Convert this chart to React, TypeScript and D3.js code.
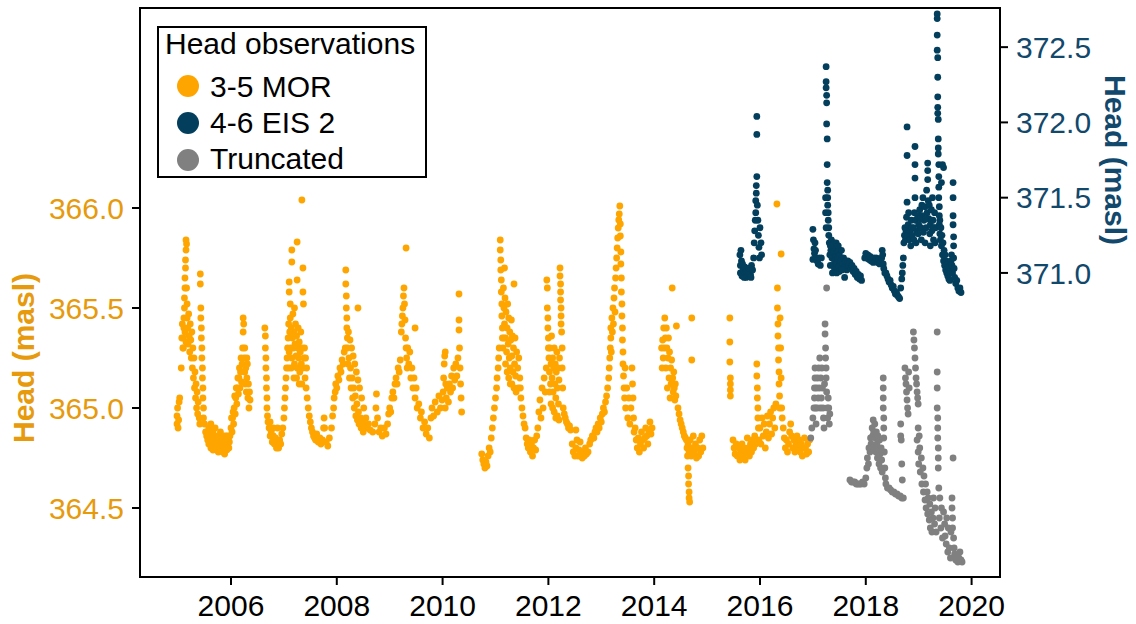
import React from "react";
import * as d3 from "d3";

// Observation series: [decimal year, head in metres above sea level]
const mor35: [number, number][] = [
  // 2005 season
  [2004.98, 364.92], [2004.98, 364.96], [2004.99, 365.0], [2005.0, 364.9], [2005.01, 364.94], [2005.02, 365.03], [2005.03, 365.05], [2005.06, 365.2],
  [2005.1, 365.3], [2005.1, 365.35], [2005.11, 365.4], [2005.11, 365.45], [2005.12, 365.5], [2005.12, 365.55], [2005.13, 365.6], [2005.13, 365.65],
  [2005.14, 365.7], [2005.14, 365.74], [2005.15, 365.79], [2005.15, 365.84], [2005.16, 365.82], [2005.16, 365.6], [2005.17, 365.52], [2005.17, 365.45],
  [2005.07, 365.35], [2005.08, 365.42], [2005.09, 365.3], [2005.13, 365.38], [2005.15, 365.33], [2005.18, 365.4], [2005.19, 365.32], [2005.2, 365.47],
  [2005.21, 365.36], [2005.22, 365.28], [2005.23, 365.42], [2005.24, 365.34], [2005.25, 365.25], [2005.26, 365.38], [2005.27, 365.2], [2005.28, 365.3],
  [2005.29, 365.15], [2005.3, 365.25], [2005.31, 365.1], [2005.32, 365.18], [2005.33, 365.05], [2005.34, 365.12], [2005.35, 365.0], [2005.36, 365.08],
  [2005.37, 364.97], [2005.38, 365.03], [2005.4, 364.95], [2005.41, 364.92],
  [2005.42, 365.67], [2005.42, 365.62], [2005.43, 365.5], [2005.43, 365.45], [2005.44, 365.4], [2005.44, 365.35], [2005.45, 365.3], [2005.45, 365.25],
  [2005.46, 365.2], [2005.46, 365.15], [2005.47, 365.1], [2005.47, 365.05], [2005.48, 365.0], [2005.48, 364.95],
  [2005.5, 364.92], [2005.52, 364.88], [2005.54, 364.86], [2005.56, 364.84], [2005.58, 364.82], [2005.6, 364.85], [2005.62, 364.8], [2005.64, 364.83],
  [2005.66, 364.79], [2005.68, 364.82], [2005.7, 364.8], [2005.72, 364.85], [2005.74, 364.8], [2005.76, 364.78], [2005.78, 364.82], [2005.8, 364.79],
  [2005.82, 364.84], [2005.84, 364.78], [2005.86, 364.8], [2005.88, 364.77], [2005.9, 364.82], [2005.92, 364.79], [2005.94, 364.84], [2005.96, 364.8],
  [2005.58, 364.9], [2005.62, 364.92], [2005.66, 364.88], [2005.7, 364.9], [2005.75, 364.86], [2005.8, 364.88], [2005.85, 364.86], [2005.9, 364.86],
  [2005.57, 364.87], [2005.61, 364.84], [2005.65, 364.86], [2005.69, 364.84], [2005.73, 364.82], [2005.77, 364.84], [2005.81, 364.81], [2005.87, 364.83],
  [2005.93, 364.86], [2005.97, 364.83],
  [2005.98, 364.86], [2006.0, 364.9], [2006.02, 364.88], [2006.03, 364.95], [2006.05, 364.92], [2006.06, 365.0], [2006.08, 364.97], [2006.09, 365.05],
  [2006.11, 365.02], [2006.12, 365.1], [2006.14, 365.07], [2006.15, 365.15], [2006.17, 365.1], [2006.18, 365.18], [2006.2, 365.13], [2006.21, 365.22],
  [2006.22, 365.3], [2006.23, 365.38], [2006.23, 365.45], [2006.24, 365.42], [2006.25, 365.25], [2006.26, 365.18], [2006.27, 365.12], [2006.28, 365.2],
  [2006.29, 365.08], [2006.3, 365.15], [2006.31, 365.22], [2006.32, 365.05], [2006.33, 365.12], [2006.34, 365.0], [2006.35, 365.08], [2006.36, 365.04],
  [2006.01, 364.95], [2006.04, 364.98], [2006.07, 365.06], [2006.1, 365.1], [2006.13, 365.15], [2006.16, 365.2], [2006.19, 365.25], [2006.26, 365.3],
  [2006.3, 365.25],
  // 2007 season
  [2006.64, 365.4], [2006.65, 365.36], [2006.65, 365.3], [2006.66, 365.25], [2006.66, 365.2], [2006.67, 365.15], [2006.67, 365.1], [2006.68, 365.05],
  [2006.68, 365.0], [2006.69, 364.96], [2006.7, 364.93],
  [2006.72, 364.9], [2006.74, 364.86], [2006.76, 364.88], [2006.78, 364.83], [2006.8, 364.86], [2006.82, 364.82], [2006.84, 364.85], [2006.86, 364.8],
  [2006.88, 364.83], [2006.9, 364.8], [2006.92, 364.84], [2006.94, 364.82], [2006.96, 364.87], [2006.98, 364.9], [2006.74, 364.93], [2006.8, 364.9], [2006.88, 364.9],
  [2007.0, 364.95], [2007.01, 365.0], [2007.02, 365.05], [2007.03, 365.1], [2007.04, 365.15], [2007.05, 365.2], [2007.06, 365.25], [2007.07, 365.3],
  [2007.08, 365.35], [2007.09, 365.42], [2007.1, 365.28], [2007.11, 365.38], [2007.12, 365.45], [2007.13, 365.3], [2007.14, 365.4], [2007.15, 365.25],
  [2007.16, 365.35], [2007.17, 365.47], [2007.18, 365.3], [2007.19, 365.38], [2007.2, 365.22], [2007.21, 365.32], [2007.22, 365.42], [2007.23, 365.26],
  [2007.24, 365.36], [2007.25, 365.2], [2007.26, 365.3], [2007.27, 365.4], [2007.28, 365.25], [2007.29, 365.33], [2007.3, 365.18], [2007.31, 365.28],
  [2007.32, 365.38], [2007.33, 365.22], [2007.34, 365.3], [2007.36, 365.2], [2007.38, 365.25], [2007.4, 365.15],
  [2007.09, 365.2], [2007.14, 365.2], [2007.19, 365.15], [2007.24, 365.15], [2007.29, 365.12], [2007.34, 365.12], [2007.39, 365.3], [2007.41, 365.25],
  [2007.15, 365.79], [2007.15, 365.73], [2007.25, 365.83], [2007.25, 365.64], [2007.1, 365.63], [2007.1, 365.58], [2007.36, 365.7], [2007.34, 366.04],
  [2007.36, 365.58], [2007.37, 365.52], [2007.12, 365.52], [2007.2, 365.5],
  [2007.42, 365.1], [2007.43, 365.2], [2007.44, 365.05], [2007.46, 365.0], [2007.48, 364.96], [2007.5, 364.93], [2007.52, 364.9], [2007.54, 364.88],
  [2007.56, 364.86], [2007.58, 364.85], [2007.6, 364.84],
  [2007.62, 364.87], [2007.65, 364.83], [2007.68, 364.85], [2007.7, 364.82], [2007.73, 364.84], [2007.75, 364.9], [2007.76, 364.95], [2007.77, 364.9],
  [2007.8, 364.83], [2007.83, 364.81], [2007.86, 364.85],
  // 2008 season
  [2007.9, 364.9], [2007.92, 364.96], [2007.94, 365.0], [2007.95, 365.05], [2007.97, 365.08], [2007.98, 365.12], [2008.0, 365.1], [2008.02, 365.16],
  [2008.04, 365.14], [2008.06, 365.2], [2008.08, 365.18], [2008.1, 365.24], [2008.12, 365.22], [2008.14, 365.28], [2008.16, 365.3],
  [2008.17, 365.69], [2008.17, 365.62], [2008.18, 365.56], [2008.18, 365.5], [2008.19, 365.45], [2008.19, 365.4], [2008.2, 365.35], [2008.4, 365.5],
  [2008.2, 365.3], [2008.22, 365.38], [2008.23, 365.25], [2008.25, 365.34], [2008.26, 365.2], [2008.28, 365.3], [2008.29, 365.15], [2008.31, 365.26],
  [2008.32, 365.1], [2008.34, 365.22], [2008.35, 365.06], [2008.37, 365.18], [2008.38, 365.02], [2008.4, 365.14], [2008.41, 364.98], [2008.43, 365.1],
  [2008.45, 364.95], [2008.47, 365.05], [2008.49, 364.93], [2008.51, 365.0], [2008.53, 364.91], [2008.55, 364.95], [2008.57, 364.9], [2008.6, 364.92],
  [2008.21, 365.22], [2008.24, 365.15], [2008.27, 365.1], [2008.3, 365.05], [2008.33, 365.0], [2008.36, 364.96], [2008.39, 364.94], [2008.42, 364.92],
  [2008.46, 364.9], [2008.5, 364.88],
  [2008.63, 364.89], [2008.68, 364.88], [2008.72, 364.92], [2008.74, 365.0], [2008.75, 365.07], [2008.77, 364.95], [2008.8, 364.88], [2008.83, 364.9],
  [2008.86, 364.86], [2008.9, 364.9], [2008.93, 364.87],
  // 2009 season
  [2008.96, 364.92], [2008.98, 364.97], [2009.0, 365.0], [2009.02, 364.98], [2009.04, 365.05], [2009.06, 365.08], [2009.08, 365.05], [2009.1, 365.12],
  [2009.12, 365.15], [2009.14, 365.12], [2009.16, 365.2], [2009.18, 365.18], [2009.2, 365.24],
  [2009.22, 365.38], [2009.23, 365.42], [2009.24, 365.46], [2009.25, 365.5], [2009.26, 365.56], [2009.27, 365.6], [2009.28, 365.52], [2009.29, 365.44],
  [2009.3, 365.35], [2009.31, 365.8], [2009.31, 365.3], [2009.32, 365.25], [2009.33, 365.2], [2009.48, 365.4],
  [2009.34, 365.3], [2009.36, 365.22], [2009.38, 365.28], [2009.4, 365.15], [2009.42, 365.2], [2009.44, 365.1], [2009.46, 365.15], [2009.48, 365.05],
  [2009.5, 365.1], [2009.52, 365.0], [2009.55, 365.02], [2009.58, 364.95], [2009.6, 364.98], [2009.63, 364.9], [2009.66, 364.93], [2009.69, 364.87],
  [2009.72, 364.9], [2009.75, 364.85], [2009.78, 364.95], [2009.8, 365.0], [2009.83, 364.96], [2009.86, 365.03], [2009.9, 364.98], [2009.93, 365.06],
  [2009.96, 365.0], [2009.99, 365.04],
  // 2010 season
  [2010.01, 365.08], [2010.02, 365.15], [2010.03, 365.22], [2010.04, 365.26], [2010.05, 365.28], [2010.05, 365.0], [2010.06, 365.12], [2010.07, 365.05],
  [2010.09, 365.1], [2010.11, 365.03], [2010.13, 365.12], [2010.15, 365.08], [2010.17, 365.16], [2010.19, 365.1], [2010.21, 365.2], [2010.23, 365.14],
  [2010.25, 365.22], [2010.27, 365.16], [2010.29, 365.25], [2010.31, 365.57], [2010.31, 365.44], [2010.31, 365.39], [2010.32, 365.3], [2010.33, 365.2],
  [2010.34, 365.12], [2010.35, 365.05], [2010.36, 364.98],
  // 2011 season
  [2010.74, 364.77], [2010.76, 364.74], [2010.78, 364.72], [2010.8, 364.7], [2010.82, 364.73], [2010.84, 364.71], [2010.86, 364.76], [2010.88, 364.8],
  [2010.9, 364.78], [2010.92, 364.85], [2010.94, 364.9], [2010.96, 364.95], [2010.98, 365.0], [2011.0, 365.05], [2011.02, 365.1], [2011.03, 365.15],
  [2011.05, 365.2], [2011.06, 365.25], [2011.07, 365.3],
  [2011.09, 365.84], [2011.09, 365.79], [2011.1, 365.74], [2011.1, 365.69], [2011.11, 365.64], [2011.11, 365.58], [2011.12, 365.52], [2011.12, 365.46],
  [2011.13, 365.4], [2011.13, 365.35], [2011.14, 365.3], [2011.17, 365.7], [2011.35, 365.62],
  [2011.15, 365.6], [2011.16, 365.5], [2011.17, 365.42], [2011.18, 365.55], [2011.19, 365.35], [2011.2, 365.48], [2011.21, 365.28], [2011.22, 365.4],
  [2011.23, 365.52], [2011.24, 365.32], [2011.25, 365.45], [2011.26, 365.25], [2011.27, 365.38], [2011.28, 365.2], [2011.29, 365.34], [2011.3, 365.44],
  [2011.31, 365.26], [2011.32, 365.36], [2011.33, 365.18], [2011.34, 365.3], [2011.36, 365.22], [2011.37, 365.35], [2011.38, 365.16], [2011.4, 365.28],
  [2011.42, 365.2], [2011.44, 365.25],
  [2011.16, 365.35], [2011.19, 365.22], [2011.22, 365.18], [2011.25, 365.15], [2011.28, 365.12], [2011.31, 365.12], [2011.35, 365.1], [2011.39, 365.08],
  [2011.43, 365.1],
  [2011.46, 365.15], [2011.47, 365.1], [2011.48, 365.05], [2011.5, 365.0], [2011.52, 364.96], [2011.54, 364.92], [2011.56, 364.9],
  [2011.58, 364.85], [2011.6, 364.82], [2011.62, 364.8], [2011.64, 364.84], [2011.66, 364.78], [2011.68, 364.82], [2011.7, 364.76], [2011.72, 364.8],
  [2011.74, 364.84], [2011.76, 364.79], [2011.78, 364.86],
  // 2012 season
  [2011.8, 364.9], [2011.82, 364.98], [2011.84, 365.04], [2011.86, 364.95], [2011.88, 365.1], [2011.9, 365.0], [2011.92, 365.15], [2011.94, 365.08],
  [2011.96, 365.2], [2011.97, 365.64], [2011.98, 365.6], [2011.98, 365.5], [2011.99, 365.45], [2011.99, 365.4], [2012.0, 365.35], [2012.0, 365.3],
  [2012.22, 365.7], [2012.22, 365.66], [2012.23, 365.62], [2012.23, 365.58], [2012.23, 365.54], [2012.24, 365.5], [2012.24, 365.46], [2012.24, 365.42],
  [2012.25, 365.38],
  [2012.01, 365.25], [2012.02, 365.18], [2012.03, 365.3], [2012.04, 365.12], [2012.05, 365.22], [2012.06, 365.36], [2012.07, 365.15], [2012.08, 365.25],
  [2012.09, 365.08], [2012.1, 365.2], [2012.11, 365.3], [2012.12, 365.12], [2012.13, 365.22], [2012.14, 365.05], [2012.15, 365.18], [2012.16, 365.28],
  [2012.17, 365.1], [2012.18, 365.2], [2012.19, 365.02], [2012.2, 365.14], [2012.21, 365.25], [2012.26, 365.3], [2012.26, 365.2], [2012.27, 365.1],
  [2012.02, 365.08], [2012.05, 365.02], [2012.08, 365.0], [2012.11, 364.98], [2012.14, 364.95], [2012.17, 364.96], [2012.2, 364.94],
  [2012.28, 365.0], [2012.3, 364.97], [2012.32, 364.95], [2012.34, 364.93], [2012.36, 364.92], [2012.38, 364.9], [2012.4, 364.91], [2012.42, 364.89],
  [2012.45, 364.82], [2012.47, 364.78], [2012.5, 364.76], [2012.52, 364.8], [2012.52, 364.89], [2012.54, 364.84], [2012.56, 364.76], [2012.58, 364.79],
  [2012.6, 364.83], [2012.62, 364.78], [2012.64, 364.75], [2012.66, 364.78], [2012.68, 364.76], [2012.7, 364.8], [2012.72, 364.77], [2012.75, 364.78],
  // 2013 season
  [2012.78, 364.82], [2012.8, 364.84], [2012.83, 364.86], [2012.86, 364.85], [2012.88, 364.88], [2012.9, 364.9], [2012.92, 364.88], [2012.94, 364.92],
  [2012.96, 364.9], [2012.98, 364.95], [2013.0, 364.93], [2013.02, 364.97], [2013.04, 365.0], [2013.06, 364.98], [2013.08, 365.03], [2013.1, 365.06],
  [2013.12, 365.1], [2013.14, 365.15], [2013.15, 365.2], [2013.16, 365.25],
  [2013.17, 365.3], [2013.18, 365.35], [2013.18, 365.4], [2013.19, 365.28], [2013.2, 365.45], [2013.21, 365.38], [2013.22, 365.5], [2013.23, 365.42],
  [2013.24, 365.55], [2013.25, 365.6], [2013.26, 365.48], [2013.27, 365.65], [2013.28, 365.7], [2013.29, 365.75], [2013.3, 365.8], [2013.31, 365.85],
  [2013.32, 365.9], [2013.33, 365.94], [2013.34, 365.97], [2013.35, 366.01], [2013.36, 365.92], [2013.36, 365.86], [2013.37, 365.78], [2013.37, 365.72],
  [2013.38, 365.65], [2013.38, 365.58], [2013.39, 365.52], [2013.39, 365.46], [2013.4, 365.4], [2013.4, 365.34], [2013.41, 365.28], [2013.41, 365.22],
  [2013.42, 365.16], [2013.43, 365.1],
  [2013.44, 365.05], [2013.45, 365.2], [2013.46, 365.0], [2013.48, 365.1], [2013.5, 364.95], [2013.52, 365.05], [2013.54, 364.92], [2013.56, 365.0],
  [2013.58, 365.2], [2013.59, 365.12], [2013.6, 365.05], [2013.61, 364.95], [2013.62, 364.88], [2013.64, 364.9],
  [2013.66, 364.84], [2013.68, 364.8], [2013.7, 364.85], [2013.72, 364.78], [2013.74, 364.82], [2013.76, 364.88], [2013.78, 364.84], [2013.8, 364.8],
  [2013.82, 364.85], [2013.84, 364.9], [2013.86, 364.86], [2013.88, 364.82], [2013.9, 364.88], [2013.92, 364.93], [2013.94, 364.87], [2013.96, 364.9],
  // 2014 season
  [2014.14, 365.3], [2014.15, 365.2], [2014.16, 365.34], [2014.17, 365.25], [2014.18, 365.4], [2014.19, 365.3], [2014.2, 365.45], [2014.21, 365.35],
  [2014.22, 365.2], [2014.23, 365.4], [2014.24, 365.3], [2014.25, 365.1], [2014.26, 365.25], [2014.27, 365.35], [2014.28, 365.15], [2014.29, 365.28],
  [2014.3, 365.05], [2014.31, 365.2], [2014.32, 365.12], [2014.34, 365.6], [2014.33, 365.24], [2014.35, 365.15], [2014.36, 365.08], [2014.37, 365.18],
  [2014.38, 365.1], [2014.39, 365.04], [2014.4, 365.12], [2014.42, 365.41], [2014.41, 365.06],
  [2014.45, 365.0], [2014.47, 364.97], [2014.49, 364.94], [2014.51, 364.92], [2014.53, 364.9], [2014.55, 364.88], [2014.57, 364.86], [2014.59, 364.85],
  [2014.61, 364.84], [2014.71, 365.45], [2014.71, 365.24],
  [2014.62, 364.8], [2014.63, 364.76], [2014.64, 364.7], [2014.65, 364.66], [2014.65, 364.62], [2014.66, 364.58], [2014.66, 364.55], [2014.67, 364.53],
  [2014.64, 364.82], [2014.66, 364.78], [2014.68, 364.84], [2014.7, 364.76], [2014.72, 364.8], [2014.74, 364.86], [2014.76, 364.78], [2014.78, 364.82],
  [2014.8, 364.75], [2014.82, 364.8], [2014.84, 364.76], [2014.86, 364.84], [2014.88, 364.78], [2014.9, 364.86], [2014.92, 364.8],
  // 2015-2016 seasons
  [2015.43, 365.45], [2015.43, 365.33], [2015.43, 365.23], [2015.44, 365.15], [2015.44, 365.12], [2015.44, 365.09], [2015.44, 365.06],
  [2015.49, 364.84], [2015.51, 364.8], [2015.53, 364.77], [2015.55, 364.82], [2015.57, 364.76], [2015.6, 364.8], [2015.62, 364.74], [2015.64, 364.78],
  [2015.66, 364.82], [2015.68, 364.76], [2015.7, 364.8], [2015.72, 364.74], [2015.74, 364.78], [2015.76, 364.85], [2015.78, 364.8], [2015.8, 364.76],
  [2015.82, 364.82], [2015.84, 364.78], [2015.86, 364.84], [2015.88, 364.8], [2015.9, 364.86], [2015.92, 364.82],
  [2015.94, 365.22], [2015.94, 365.16], [2015.95, 365.1], [2015.95, 365.05], [2015.96, 365.0], [2015.96, 364.95], [2015.97, 364.9],
  [2015.98, 364.84], [2016.0, 364.9], [2016.02, 364.82], [2016.04, 364.95], [2016.06, 364.86], [2016.08, 364.92], [2016.1, 364.8], [2016.12, 364.88],
  [2016.14, 364.96], [2016.16, 364.85], [2016.18, 364.92], [2016.2, 364.98], [2016.22, 364.87], [2016.24, 364.95], [2016.26, 365.0], [2016.28, 364.9],
  [2016.3, 365.02],
  [2016.32, 366.02], [2016.33, 365.6], [2016.33, 365.5], [2016.34, 365.42], [2016.34, 365.36], [2016.35, 365.3], [2016.35, 365.24], [2016.36, 365.18],
  [2016.36, 365.12], [2016.37, 365.06], [2016.37, 365.0], [2016.4, 365.77], [2016.38, 365.45], [2016.39, 365.3], [2016.4, 365.15], [2016.41, 365.0],
  [2016.42, 364.95],
  [2016.44, 364.9], [2016.46, 364.85], [2016.48, 364.8], [2016.5, 364.84], [2016.52, 364.78], [2016.54, 364.82], [2016.56, 364.88], [2016.58, 364.92],
  [2016.6, 364.86], [2016.62, 364.8], [2016.64, 364.84], [2016.66, 364.78], [2016.68, 364.82], [2016.7, 364.86], [2016.72, 364.8], [2016.74, 364.84],
  [2016.76, 364.78], [2016.78, 364.82], [2016.8, 364.76], [2016.82, 364.8], [2016.84, 364.85], [2016.86, 364.8], [2016.88, 364.77], [2016.9, 364.82],
  [2016.92, 364.78], [2016.94, 364.84],
];

const eis46: [number, number][] = [
  // 2015-2016
  [2015.62, 371.12], [2015.63, 371.05], [2015.63, 371.0], [2015.64, 371.15], [2015.65, 371.08], [2015.66, 370.98], [2015.68, 371.02], [2015.7, 370.97],
  [2015.72, 371.0], [2015.74, 370.97], [2015.76, 371.03], [2015.78, 370.98], [2015.8, 371.0], [2015.82, 370.99], [2015.84, 371.05], [2015.86, 371.02],
  [2015.67, 371.06], [2015.71, 371.04], [2015.75, 371.01], [2015.79, 371.03], [2015.83, 370.97],
  [2015.88, 371.1], [2015.89, 371.2], [2015.9, 371.28], [2015.91, 371.35], [2015.92, 371.4], [2015.92, 371.48], [2015.93, 371.53], [2015.93, 371.58],
  [2015.94, 371.64], [2015.94, 371.92], [2015.94, 372.04], [2015.95, 371.45], [2015.96, 371.35], [2015.97, 371.25], [2015.98, 371.17], [2015.99, 371.1],
  [2016.0, 371.3], [2016.02, 371.2], [2016.03, 371.12],
  // 2017-2018
  [2017.0, 371.29], [2017.01, 371.22], [2017.02, 371.16], [2017.03, 371.13], [2017.0, 371.09], [2017.04, 371.2], [2017.05, 371.15], [2017.06, 371.1],
  [2017.08, 371.08], [2017.1, 371.06], [2017.12, 371.1], [2017.14, 371.05], [2017.16, 371.1],
  [2017.25, 372.37], [2017.25, 372.27], [2017.25, 372.23], [2017.26, 372.18], [2017.26, 372.13], [2017.26, 371.99], [2017.27, 371.89], [2017.27, 371.72],
  [2017.27, 371.6], [2017.28, 371.55], [2017.28, 371.5], [2017.28, 371.45], [2017.29, 371.4], [2017.29, 371.35], [2017.3, 371.3], [2017.3, 371.25],
  [2017.24, 371.5], [2017.24, 371.4], [2017.25, 371.3],
  [2017.31, 371.2], [2017.32, 371.12], [2017.33, 371.05], [2017.34, 371.15], [2017.35, 371.22], [2017.36, 371.1], [2017.37, 371.18], [2017.38, 371.05],
  [2017.39, 371.14], [2017.4, 371.2], [2017.41, 371.08], [2017.42, 371.16], [2017.43, 371.12], [2017.44, 371.2], [2017.45, 371.06], [2017.46, 371.14],
  [2017.47, 371.1], [2017.48, 371.18], [2017.49, 371.04], [2017.5, 371.12], [2017.52, 371.08], [2017.54, 371.15], [2017.56, 371.06], [2017.58, 371.1],
  [2017.6, 371.04], [2017.62, 371.08], [2017.64, 371.02], [2017.6, 370.97],
  [2017.33, 371.18], [2017.37, 371.0], [2017.41, 371.02], [2017.45, 371.0], [2017.5, 371.01], [2017.55, 371.02],
  [2017.66, 371.08], [2017.68, 371.05], [2017.7, 371.07], [2017.72, 371.03], [2017.74, 371.05], [2017.76, 371.01], [2017.78, 371.03], [2017.8, 370.99],
  [2017.82, 371.01], [2017.84, 370.97], [2017.86, 370.99], [2017.88, 370.96], [2017.9, 370.98], [2017.92, 370.95],
  [2017.98, 371.1], [2018.0, 371.13], [2018.02, 371.1], [2018.04, 371.12], [2018.06, 371.09], [2018.08, 371.11], [2018.1, 371.08], [2018.12, 371.1],
  [2018.14, 371.07], [2018.16, 371.1], [2018.18, 371.08], [2018.2, 371.1], [2018.22, 371.07], [2018.24, 371.09], [2018.26, 371.06], [2018.28, 371.08],
  [2018.3, 371.1], [2018.31, 371.15], [2018.32, 371.12], [2018.33, 371.06], [2018.34, 371.03], [2018.36, 371.0],
  [2018.38, 371.0], [2018.4, 370.98], [2018.42, 370.96], [2018.44, 370.94], [2018.46, 370.95], [2018.48, 370.92], [2018.5, 370.9], [2018.52, 370.91],
  [2018.54, 370.88], [2018.56, 370.86], [2018.58, 370.87], [2018.6, 370.85], [2018.62, 370.84], [2018.64, 370.83],
  [2018.66, 370.9], [2018.68, 370.96], [2018.69, 371.0], [2018.7, 371.05], [2018.71, 371.1],
  // 2019
  [2018.72, 371.2], [2018.73, 371.25], [2018.74, 371.3], [2018.75, 371.22], [2018.76, 371.28], [2018.77, 371.37], [2018.78, 371.47], [2018.78, 371.78],
  [2018.78, 371.97], [2018.79, 371.25], [2018.8, 371.32], [2018.82, 371.22], [2018.84, 371.28], [2018.86, 371.35], [2018.88, 371.25], [2018.9, 371.3],
  [2018.92, 371.4], [2018.93, 371.5], [2018.93, 371.63], [2018.93, 371.72], [2018.93, 371.84], [2018.94, 371.35], [2018.96, 371.28], [2018.98, 371.38],
  [2019.0, 371.32], [2019.02, 371.42], [2019.04, 371.3], [2019.06, 371.45], [2019.07, 371.38], [2019.08, 371.5], [2019.1, 371.35], [2019.12, 371.44],
  [2019.14, 371.3], [2019.15, 371.55], [2019.16, 371.4], [2019.17, 371.73], [2019.17, 371.68], [2019.17, 371.62], [2019.18, 371.48], [2019.19, 371.36],
  [2019.2, 371.45], [2019.22, 371.32], [2019.24, 371.42], [2019.25, 371.28], [2019.26, 371.5], [2019.27, 371.35], [2019.28, 371.22], [2019.3, 371.4],
  [2019.32, 371.3], [2018.85, 371.18], [2018.95, 371.2], [2019.05, 371.22], [2019.12, 371.2], [2019.22, 371.18],
  [2018.81, 371.4], [2018.87, 371.3], [2018.91, 371.22], [2018.99, 371.26], [2019.03, 371.36], [2019.09, 371.27], [2019.13, 371.36], [2019.21, 371.26],
  [2019.29, 371.3], [2019.31, 371.2],
  [2019.35, 372.72], [2019.35, 372.69], [2019.35, 372.58], [2019.35, 372.48], [2019.36, 372.43], [2019.36, 372.3], [2019.36, 372.17], [2019.36, 372.1],
  [2019.36, 372.06], [2019.37, 372.02], [2019.37, 371.89], [2019.37, 371.83], [2019.37, 371.79], [2019.38, 371.72], [2019.38, 371.64], [2019.38, 371.57],
  [2019.38, 371.5], [2019.39, 371.44], [2019.39, 371.38], [2019.39, 371.32], [2019.4, 371.26],
  [2019.45, 371.72], [2019.47, 371.7], [2019.43, 371.6],
  [2019.65, 371.6], [2019.65, 371.5], [2019.65, 371.38], [2019.65, 371.32], [2019.66, 371.24], [2019.66, 371.18],
  [2019.4, 371.35], [2019.41, 371.22], [2019.42, 371.3], [2019.43, 371.18], [2019.44, 371.25], [2019.45, 371.12], [2019.46, 371.2], [2019.47, 371.08],
  [2019.48, 371.15], [2019.49, 371.05], [2019.5, 371.12], [2019.51, 371.02], [2019.52, 371.08], [2019.53, 371.0], [2019.54, 371.06], [2019.55, 370.98],
  [2019.56, 371.04], [2019.57, 370.96], [2019.58, 371.02], [2019.59, 370.95], [2019.6, 371.0], [2019.61, 371.08], [2019.62, 371.12], [2019.63, 371.05],
  [2019.64, 371.0], [2019.66, 371.1], [2019.67, 371.03], [2019.68, 370.97], [2019.7, 370.93], [2019.72, 370.95], [2019.74, 370.9], [2019.76, 370.88],
  [2019.78, 370.9], [2019.8, 370.87],
];

const truncated: [number, number][] = [
  // 2017
  [2016.96, 364.85], [2016.98, 364.9], [2017.0, 364.95], [2017.02, 365.0], [2017.03, 365.05], [2017.03, 365.1], [2017.04, 365.15], [2017.04, 365.2],
  [2017.05, 365.0], [2017.06, 364.92], [2017.07, 365.1], [2017.08, 365.0], [2017.09, 365.15], [2017.1, 365.05], [2017.11, 365.2], [2017.12, 365.1],
  [2017.13, 365.25], [2017.14, 365.0], [2017.15, 365.15], [2017.16, 365.05], [2017.17, 365.2], [2017.18, 365.1], [2017.19, 365.0], [2017.2, 364.95],
  [2017.21, 364.9], [2017.22, 365.12], [2017.23, 365.42], [2017.23, 365.37], [2017.24, 365.3], [2017.24, 365.25], [2017.25, 365.2], [2017.25, 365.15],
  [2017.26, 365.6], [2017.26, 365.08], [2017.27, 365.0], [2017.28, 364.95], [2017.29, 365.05], [2017.3, 365.0], [2017.31, 364.92], [2017.32, 364.97],
  // 2018
  [2017.7, 364.64], [2017.73, 364.63], [2017.76, 364.63], [2017.79, 364.63], [2017.82, 364.62], [2017.85, 364.62], [2017.88, 364.62], [2017.91, 364.62],
  [2017.94, 364.63], [2017.97, 364.62],
  [2018.0, 364.65], [2018.02, 364.7], [2018.03, 364.75], [2018.05, 364.72], [2018.06, 364.8], [2018.08, 364.78], [2018.09, 364.85], [2018.1, 364.82],
  [2018.12, 364.9], [2018.13, 364.86], [2018.14, 364.94], [2018.15, 364.88], [2018.16, 364.8], [2018.17, 364.92], [2018.18, 364.85], [2018.19, 364.78],
  [2018.2, 364.88], [2018.21, 364.82], [2018.22, 364.75], [2018.23, 364.86], [2018.24, 364.8], [2018.25, 364.72], [2018.26, 364.84], [2018.27, 364.77],
  [2018.28, 364.7], [2018.29, 364.8], [2018.3, 364.74], [2018.31, 364.68], [2018.33, 365.15], [2018.33, 365.1], [2018.33, 365.05], [2018.33, 365.0],
  [2018.34, 364.95], [2018.34, 364.9], [2018.34, 364.85], [2018.35, 364.78], [2018.36, 364.7], [2018.37, 364.65],
  [2018.38, 364.62], [2018.41, 364.6], [2018.44, 364.6], [2018.47, 364.59], [2018.5, 364.58], [2018.53, 364.58], [2018.56, 364.57], [2018.59, 364.57],
  [2018.62, 364.56], [2018.65, 364.56], [2018.68, 364.55], [2018.71, 364.55],
  [2018.66, 364.92], [2018.66, 364.86], [2018.67, 364.84], [2018.68, 364.72], [2018.69, 364.64],
  [2018.74, 365.2], [2018.75, 365.15], [2018.76, 365.12], [2018.77, 365.08], [2018.78, 365.04], [2018.79, 365.0], [2018.8, 364.97], [2018.81, 365.18],
  [2018.82, 365.1],
  // 2019
  [2018.9, 365.38], [2018.91, 365.34], [2018.92, 365.3], [2018.93, 365.25], [2018.94, 365.2], [2018.95, 365.15], [2018.96, 365.12], [2018.97, 365.08],
  [2018.98, 365.05], [2018.99, 365.02], [2018.99, 364.9], [2019.01, 364.86],
  [2018.97, 364.84], [2018.99, 364.78], [2019.0, 364.72], [2019.02, 364.8], [2019.03, 364.68], [2019.05, 364.75], [2019.06, 364.62], [2019.08, 364.7],
  [2019.09, 364.58], [2019.1, 364.66], [2019.12, 364.54], [2019.13, 364.62], [2019.14, 364.5], [2019.16, 364.58], [2019.17, 364.47], [2019.18, 364.55],
  [2019.2, 364.44], [2019.21, 364.52], [2019.22, 364.4], [2019.24, 364.48], [2019.25, 364.38], [2019.27, 364.45],
  [2019.35, 365.38], [2019.35, 365.18], [2019.35, 365.1], [2019.35, 365.0], [2019.36, 364.95], [2019.36, 364.9], [2019.36, 364.85], [2019.37, 364.8],
  [2019.37, 364.75], [2019.37, 364.7],
  [2019.28, 364.55], [2019.3, 364.42], [2019.31, 364.5], [2019.33, 364.38], [2019.38, 364.6], [2019.39, 364.45], [2019.4, 364.55], [2019.42, 364.4],
  [2019.43, 364.5], [2019.45, 364.35],
  [2019.47, 364.48], [2019.49, 364.42], [2019.5, 364.36], [2019.52, 364.32], [2019.53, 364.45], [2019.55, 364.28], [2019.56, 364.4], [2019.58, 364.3],
  [2019.6, 364.25], [2019.61, 364.38], [2019.63, 364.55], [2019.63, 364.5], [2019.64, 364.45], [2019.64, 364.4], [2019.65, 364.75], [2019.66, 364.35],
  [2019.67, 364.3], [2019.68, 364.27], [2019.7, 364.24], [2019.72, 364.26], [2019.74, 364.23], [2019.76, 364.25], [2019.78, 364.28], [2019.8, 364.24],
  [2019.82, 364.23],
];

const yearTicks = [2006, 2008, 2010, 2012, 2014, 2016, 2018, 2020];
const leftTicks = [364.5, 365.0, 365.5, 366.0];
const rightTicks = [371.0, 371.5, 372.0, 372.5];

const legendItems = [
  { label: "3-5 MOR", color: "#FFA500" },
  { label: "4-6 EIS 2", color: "#033F5C" },
  { label: "Truncated", color: "#808080" },
];

const ORANGE = "#FFA500";
const ORANGE_TEXT = "#E69A0C";
const BLUE = "#033F5C";
const BLUE_TEXT = "#12486B";
const GREY = "#808080";
const FONT = "'Liberation Sans', Arial, Helvetica, sans-serif";

const W = 1136;
const H = 624;
const plot = { left: 140, right: 1000, top: 8, bottom: 577 };

export default function App() {
  const x = d3.scaleLinear().domain([2004.28, 2020.537]).range([plot.left, plot.right]);
  const yL = d3.scaleLinear().domain([364.155, 367.0]).range([plot.bottom, plot.top]);
  const yR = d3.scaleLinear().domain([368.98, 372.76]).range([plot.bottom, plot.top]);
  const fmt = d3.format(".1f");
  const r = 3.4;

  return (
    <svg
      width={W}
      height={H}
      style={{ position: "absolute", left: 0, top: 0, background: "#fff" }}
      fontFamily={FONT}
    >
      <rect x={0} y={0} width={W} height={H} fill="#fff" />

      <g>
        {mor35.map(([t, v], i) => (
          <circle key={"m" + i} cx={x(t)} cy={yL(v)} r={r} fill={ORANGE} />
        ))}
        {truncated.map(([t, v], i) => (
          <circle key={"t" + i} cx={x(t)} cy={yL(v)} r={r} fill={GREY} />
        ))}
        {eis46.map(([t, v], i) => (
          <circle key={"e" + i} cx={x(t)} cy={yR(v)} r={r} fill={BLUE} />
        ))}
      </g>

      {/* frame */}
      <rect
        x={plot.left}
        y={plot.top}
        width={plot.right - plot.left}
        height={plot.bottom - plot.top}
        fill="none"
        stroke="#000"
        strokeWidth={2}
      />

      {/* x axis */}
      {yearTicks.map((t) => (
        <g key={"x" + t}>
          <line x1={x(t)} x2={x(t)} y1={plot.bottom} y2={plot.bottom + 8} stroke="#000" strokeWidth={2} />
          <text x={x(t)} y={616} textAnchor="middle" fontSize={30} fill="#000">
            {t}
          </text>
        </g>
      ))}

      {/* left axis */}
      {leftTicks.map((v) => (
        <g key={"l" + v}>
          <line x1={plot.left - 8} x2={plot.left} y1={yL(v)} y2={yL(v)} stroke="#000" strokeWidth={2} />
          <text x={124} y={yL(v)} dy="0.36em" textAnchor="end" fontSize={30} fill={ORANGE_TEXT}>
            {fmt(v)}
          </text>
        </g>
      ))}
      <text
        transform="translate(34,358) rotate(-90)"
        textAnchor="middle"
        fontSize={30}
        fontWeight="bold"
        fill={ORANGE_TEXT}
      >
        Head (masl)
      </text>

      {/* right axis */}
      {rightTicks.map((v) => (
        <g key={"r" + v}>
          <line x1={plot.right} x2={plot.right + 8} y1={yR(v)} y2={yR(v)} stroke="#000" strokeWidth={2} />
          <text x={1016} y={yR(v)} dy="0.36em" textAnchor="start" fontSize={30} fill={BLUE_TEXT}>
            {fmt(v)}
          </text>
        </g>
      ))}
      <text
        transform="translate(1105,160) rotate(90)"
        textAnchor="middle"
        fontSize={30}
        fontWeight="bold"
        fill={BLUE_TEXT}
      >
        Head (masl)
      </text>

      {/* legend */}
      <g>
        <rect x={158} y={27} width={268} height={150} fill="#fff" stroke="#000" strokeWidth={2} />
        <text x={165} y={54} fontSize={30} fill="#000">
          Head observations
        </text>
        {legendItems.map((d, i) => (
          <g key={d.label}>
            <circle cx={188} cy={86 + i * 37} r={11} fill={d.color} />
            <text x={210} y={97 + i * 36} fontSize={30} fill="#000">
              {d.label}
            </text>
          </g>
        ))}
      </g>
    </svg>
  );
}
